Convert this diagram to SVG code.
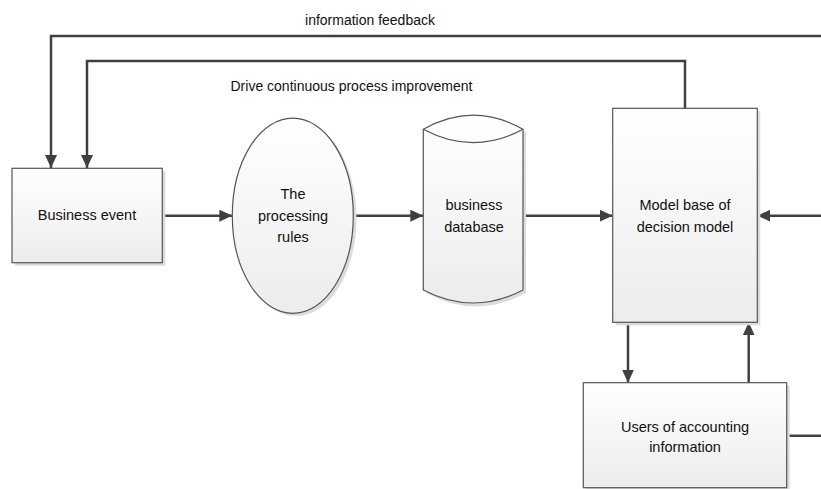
<svg xmlns="http://www.w3.org/2000/svg" width="821" height="489" viewBox="0 0 821 489">
<defs>
<linearGradient id="g" x1="0" y1="0" x2="0" y2="1">
<stop offset="0" stop-color="#ffffff"/>
<stop offset="1" stop-color="#ececec"/>
</linearGradient>
<marker id="ah" markerUnits="userSpaceOnUse" markerWidth="13" markerHeight="12" refX="13" refY="6" orient="auto">
<path d="M0,0 L13,6 L0,12 Z" fill="#404040"/>
</marker>
</defs>
<style>
.shape{fill:url(#g);stroke:#555;stroke-width:1.2}
.shadow{fill:#dcdcdc;stroke:none}
.conn{fill:none;stroke:#404040;stroke-width:2.5}
.arr{marker-end:url(#ah)}
text{font-family:"Liberation Sans",Arial,sans-serif;font-size:14.5px;fill:#111;text-anchor:middle}
.lbl{font-size:14px}
</style>
<rect width="821" height="489" fill="#ffffff"/>
<g id="connectors">
<path class="conn arr" d="M821,36 H51 V168"/>
<path class="conn arr" d="M685,109 V61 H87 V168"/>
<path class="conn arr" d="M162,215.7 H232.3"/>
<path class="conn arr" d="M353.3,215.7 H423.3"/>
<path class="conn arr" d="M523,215.7 H612.7"/>
<path class="conn arr" d="M821,215.7 H757.3"/>
<path class="conn arr" d="M628,322.3 V382.7"/>
<path class="conn arr" d="M748.7,382.7 V322.3"/>
<path class="conn" d="M786.7,435.7 H821"/>
</g>
<g id="label-feedback"><text class="lbl" x="370" y="25">information feedback</text></g>
<g id="label-drive"><text class="lbl" x="351.5" y="91">Drive continuous process improvement</text></g>
<g id="business-event">
<rect class="shadow" x="15" y="171" width="150.3" height="94.7"/>
<rect class="shape" x="12" y="168.3" width="150.3" height="94.4"/>
<text x="87" y="220">Business event</text>
</g>
<g id="processing-rules">
<ellipse class="shadow" cx="296" cy="218.5" rx="60.5" ry="97.6"/>
<ellipse class="shape" cx="292.8" cy="215.7" rx="60.5" ry="97.6"/>
<text x="293" y="199">The</text>
<text x="293" y="220.5">processing</text>
<text x="293" y="241.5">rules</text>
</g>
<g id="business-database">
<path class="shadow" d="M426.3,132 Q476,102 526,132 V293 Q476,320 426.3,293 Z"/>
<path class="shape" d="M423.3,129.3 Q473.2,101 523,129.3 V290 Q473.2,316 423.3,290 Z"/>
<path fill="none" stroke="#555" stroke-width="1.2" d="M423.3,129.3 Q473.2,156 523,129.3"/>
<text x="474" y="210">business</text>
<text x="474" y="231.5">database</text>
</g>
<g id="model-base">
<rect class="shadow" x="615.7" y="111.3" width="144.6" height="214"/>
<rect class="shape" x="612.7" y="108.3" width="144.6" height="214"/>
<text x="685" y="210">Model base of</text>
<text x="685" y="231.5">decision model</text>
</g>
<g id="users">
<rect class="shadow" x="586.3" y="385.7" width="203.4" height="106"/>
<rect class="shape" x="583.3" y="382.7" width="203.4" height="105"/>
<text x="685" y="432">Users of accounting</text>
<text x="685" y="452">information</text>
</g>
</svg>
